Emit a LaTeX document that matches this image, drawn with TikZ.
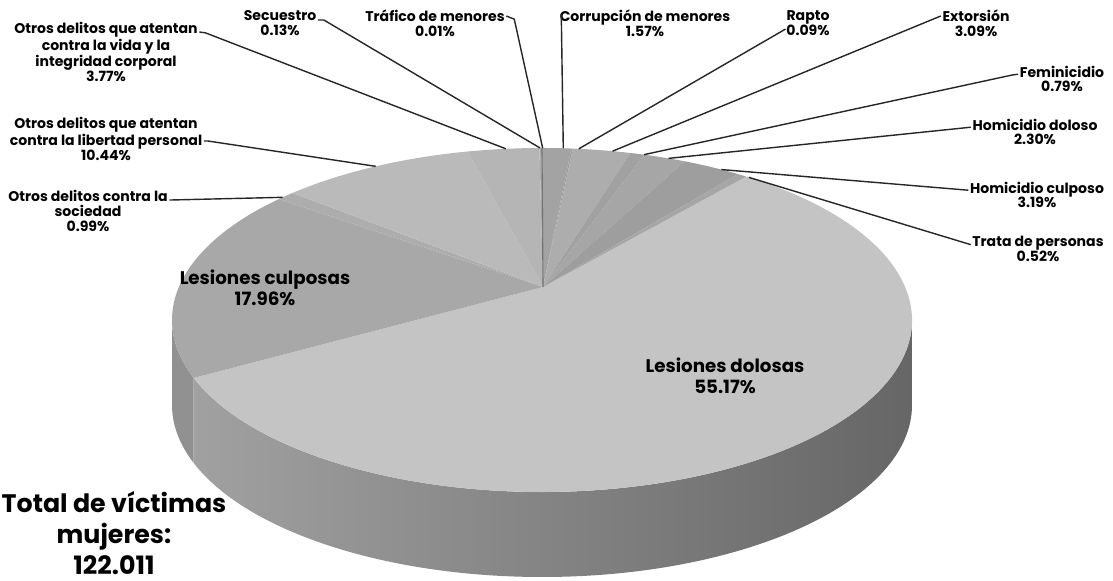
\documentclass[tikz,border=0pt]{standalone}
\usepackage{fontspec}
\setmainfont{Poppins}
\usetikzlibrary{calc}
\tikzstyle{lbl}=[font=\fontsize{10}{10.5}\selectfont\bfseries,align=center,inner sep=1pt]
\tikzstyle{pielbl}=[font=\fontsize{13}{15}\selectfont\bfseries,align=center,inner sep=1pt]
\tikzstyle{leader}=[line width=1pt,black!85]
\tikzstyle{rim}=[x radius=9.25cm,y radius=4.3cm]
\def\PieH{2.125cm}

\begin{document}
\begin{tikzpicture}
\useasboundingbox (0,0) rectangle (27.825,14.525);
\coordinate (C) at (13.55,6.525);
\coordinate (Apex) at (13.575,7.35);
% side
\shade[left color=black!37,middle color=black!41,right color=black!60] ($(C)+(-160.3:9.25cm and 4.3cm)$) arc[rim,start angle=-160.3,end angle=0] -- ++(0,-\PieH) arc[rim,start angle=0,end angle=-160.3] -- cycle;
\fill[black!43] ($(C)+(180:9.25cm and 4.3cm)$) arc[rim,start angle=180,end angle=199.7] -- ++(0,-\PieH) arc[rim,start angle=199.7,end angle=180] -- cycle;
% top
\fill[black!23] (Apex) -- ($(C)+(56.5:9.25cm and 4.3cm)$) arc[rim,start angle=56.5,end angle=-160.3] -- cycle;
\fill[black!34] (Apex) -- ($(C)+(199.7:9.25cm and 4.3cm)$) arc[rim,start angle=199.7,end angle=135.3] -- cycle;
\fill[black!32] (Apex) -- ($(C)+(135.3:9.25cm and 4.3cm)$) arc[rim,start angle=135.3,end angle=132.4] -- cycle;
\fill[black!27] (Apex) -- ($(C)+(132.4:9.25cm and 4.3cm)$) arc[rim,start angle=132.4,end angle=101.6] -- cycle;
\fill[black!29] (Apex) -- ($(C)+(101.6:9.25cm and 4.3cm)$) arc[rim,start angle=101.6,end angle=90.4] -- cycle;
\fill[black!33] (Apex) -- ($(C)+(90.4:9.25cm and 4.3cm)$) arc[rim,start angle=90.4,end angle=90] -- cycle;
\fill[black!36] (Apex) -- ($(C)+(90:9.25cm and 4.3cm)$) arc[rim,start angle=90,end angle=85.45] -- cycle;
\fill[black!38] (Apex) -- ($(C)+(85.45:9.25cm and 4.3cm)$) arc[rim,start angle=85.45,end angle=85.2] -- cycle;
\fill[black!32] (Apex) -- ($(C)+(85.2:9.25cm and 4.3cm)$) arc[rim,start angle=85.2,end angle=76.2] -- cycle;
\fill[black!37] (Apex) -- ($(C)+(76.2:9.25cm and 4.3cm)$) arc[rim,start angle=76.2,end angle=73.9] -- cycle;
\fill[black!35] (Apex) -- ($(C)+(73.9:9.25cm and 4.3cm)$) arc[rim,start angle=73.9,end angle=67.3] -- cycle;
\fill[black!38] (Apex) -- ($(C)+(67.3:9.25cm and 4.3cm)$) arc[rim,start angle=67.3,end angle=58] -- cycle;
\fill[black!35] (Apex) -- ($(C)+(58:9.25cm and 4.3cm)$) arc[rim,start angle=58,end angle=56.5] -- cycle;
\draw[black!55,line width=0.8pt] (Apex) -- ($(C)+(90:9.25cm and 4.3cm)$);
% rim points
\coordinate (RimVida) at ($(C)+(95.6:9.25cm and 4.3cm)$);
\coordinate (RimSecuestro) at ($(C)+(90.3:9.25cm and 4.3cm)$);
\coordinate (RimTrafico) at ($(C)+(89.9:9.25cm and 4.3cm)$);
\coordinate (RimCorrupcion) at ($(C)+(86.7:9.25cm and 4.3cm)$);
\coordinate (RimRapto) at ($(C)+(84.3:9.25cm and 4.3cm)$);
\coordinate (RimExtorsion) at ($(C)+(79:9.25cm and 4.3cm)$);
\coordinate (RimFeminicidio) at ($(C)+(74:9.25cm and 4.3cm)$);
\coordinate (RimHomDoloso) at ($(C)+(70:9.25cm and 4.3cm)$);
\coordinate (RimHomCulposo) at ($(C)+(61:9.25cm and 4.3cm)$);
\coordinate (RimTrata) at ($(C)+(56:9.25cm and 4.3cm)$);
\coordinate (RimLibertad) at ($(C)+(116.7:9.25cm and 4.3cm)$);
\coordinate (RimSociedad) at ($(C)+(134.5:9.25cm and 4.3cm)$);
% labels
\node[lbl] (Vida) at (2.65,13.225) {Otros delitos que atentan\\contra la vida y la\\integridad corporal\\3.77\%};
\node[lbl] (Secuestro) at (7.0,13.95) {Secuestro\\0.13\%};
\node[lbl] (Trafico) at (10.875,13.95) {Tráfico de menores\\0.01\%};
\node[lbl] (Corrupcion) at (16.125,13.95) {Corrupción de menores\\1.57\%};
\node[lbl] (Rapto) at (20.2,13.95) {Rapto\\0.09\%};
\node[lbl] (Extorsion) at (24.4,13.95) {Extorsión\\3.09\%};
\node[lbl] (Feminicidio) at (26.55,12.55) {Feminicidio\\0.79\%};
\node[lbl] (HomDoloso) at (25.875,11.225) {Homicidio doloso\\2.30\%};
\node[lbl] (HomCulposo) at (25.925,9.65) {Homicidio culposo\\3.19\%};
\node[lbl] (Trata) at (25.95,8.3) {Trata de personas\\0.52\%};
\node[lbl] (Libertad) at (2.65,11.05) {Otros delitos que atentan\\contra la libertad personal\\10.44\%};
\node[lbl] (Sociedad) at (2.2,9.25) {Otros delitos contra la\\sociedad\\0.99\%};
\node[pielbl] (Culposas) at (6.625,7.325) {Lesiones culposas\\17.96\%};
\node[pielbl] (Dolosas) at (18.125,5.125) {Lesiones dolosas\\55.17\%};
\node[font=\fontsize{18}{22}\selectfont\bfseries,align=center] (Total) at (2.85,1.2) {Total de víctimas\\mujeres:\\122.011};
% leaders
\draw[leader] ($(Vida.north east)+(0,-0.28)$) -- +(0.15,-0.02) -- (RimVida);
\draw[leader] ($(Secuestro.north east)+(0,-0.28)$) -- +(0.15,0) -- (RimSecuestro);
\draw[leader] ($(Trafico.north east)+(0,-0.2)$) -- +(0.2,-0.08) -- (RimTrafico);
\draw[leader] ($(Corrupcion.north west)+(0.08,-0.15)$) -- (RimCorrupcion);
\draw[leader] ($(Rapto.south west)+(0.02,0.2)$) -- (RimRapto);
\draw[leader] ($(Extorsion.north west)+(0,-0.2)$) -- (RimExtorsion);
\draw[leader] ($(Feminicidio.north west)+(0,-0.25)$) -- +(-0.15,-0.02) -- (RimFeminicidio);
\draw[leader] ($(HomDoloso.north west)+(0,-0.25)$) -- (RimHomDoloso);
\draw[leader] ($(HomCulposo.north west)+(0,-0.25)$) -- (RimHomCulposo);
\draw[leader] ($(Trata.north west)+(0,-0.25)$) -- (RimTrata);
\draw[leader] ($(Libertad.east)+(0,-0.05)$) -- +(0.1,0) -- (RimLibertad);
\draw[leader] ($(Sociedad.north east)+(0,-0.28)$) -- (RimSociedad);
\end{tikzpicture}
\end{document}
